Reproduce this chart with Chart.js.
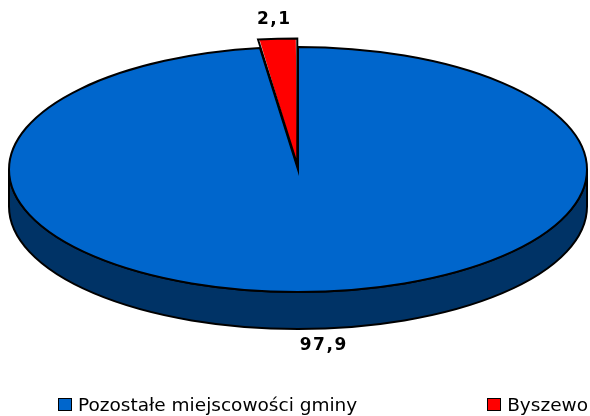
<!DOCTYPE html>
<html>
<head>
<meta charset="utf-8">
<script src="https://cdn.jsdelivr.net/npm/chart.js@4.4.1/dist/chart.umd.min.js"></script>
<style>
    html, body { margin: 0; padding: 0; background: #fff; }
    #wrap { position: relative; width: 590px; height: 416px; }
    #legenda {
        position: absolute; left: 58px; right: 2px; top: 396px;
        display: flex; justify-content: space-between;
        font: 18.5px "DejaVu Sans"; line-height: 18px; color: #000;
    }
    .item { display: flex; align-items: flex-start; white-space: nowrap; }
    .box { width: 12px; height: 11px; border: 1px solid #000; margin: 2px 6px 0 0; }
</style>
</head>
<body>
<div id="wrap">
    <canvas id="wykres" width="590" height="416"></canvas>
    <div id="legenda"></div>
</div>
<script>
// ------------------------------------------------------------------
// DANE
// ------------------------------------------------------------------
const ETYKIETY = ["Pozostałe miejscowości gminy", "Byszewo"];
const UDZIALY = [97.9, 2.1];
const ETYKIETY_WARTOSCI = ["97,9", "2,1"];
const KOLORY = ["#0066CC", "#FF0000"];
const KOLOR_BOKU = "#003366";

// geometria elipsy (pie "3D")
const E = { cx: 298, cy: 169.5, rx: 289, ry: 122.5, glebokosc: 37 };

// ------------------------------------------------------------------
function mapuj(chart) {
    const arc = chart.getDatasetMeta(0).data[0];
    return { x0: arc.x, y0: arc.y, sx: E.rx / arc.outerRadius, sy: E.ry / arc.outerRadius };
}

function transformuj(ctx, m) {
    ctx.translate(E.cx, E.cy);
    ctx.scale(m.sx, m.sy);
    ctx.translate(-m.x0, -m.y0);
}

const pie3d = {
    id: "pie3d",
    beforeDatasetsDraw(chart) {
        const ctx = chart.ctx;
        const arcs = chart.getDatasetMeta(0).data;
        ctx.save();
        arcs.forEach(arc => {
            for (let k = -1; k <= 1; k++) {
                const a = Math.max(arc.startAngle, 2 * Math.PI * k);
                const b = Math.min(arc.endAngle, 2 * Math.PI * k + Math.PI);
                if (b <= a) continue;
                const a0 = a - 2 * Math.PI * k, b0 = b - 2 * Math.PI * k;
                ctx.beginPath();
                ctx.ellipse(E.cx, E.cy, E.rx, E.ry, 0, a0, b0);
                ctx.ellipse(E.cx, E.cy + E.glebokosc, E.rx, E.ry, 0, b0, a0, true);
                ctx.closePath();
                ctx.fillStyle = KOLOR_BOKU;
                ctx.fill();
                ctx.lineWidth = 2;
                ctx.strokeStyle = "#000";
                ctx.stroke();
            }
        });
        ctx.restore();
    },
    beforeDatasetDraw(chart) {
        chart.ctx.save();
        transformuj(chart.ctx, mapuj(chart));
    },
    afterDatasetDraw(chart) {
        chart.ctx.restore();
    },
    afterDatasetsDraw(chart) {
        const ctx = chart.ctx;
        const m = mapuj(chart);
        const arcs = chart.getDatasetMeta(0).data;

        // obrys
        arcs.forEach(arc => {
            const o = (arc.options.offset || 0) / 4;
            const h = (arc.startAngle + arc.endAngle) / 2;
            const fix = 1 - Math.sin(Math.min(Math.PI, arc.circumference));
            const r = arc.outerRadius + o * fix;
            ctx.save();
            transformuj(ctx, m);
            ctx.translate(Math.cos(h) * o, Math.sin(h) * o);
            ctx.beginPath();
            ctx.moveTo(arc.x, arc.y);
            ctx.arc(arc.x, arc.y, r, arc.startAngle, arc.endAngle);
            ctx.closePath();
            ctx.restore();
            ctx.save();
            ctx.lineWidth = 2;
            ctx.lineJoin = "miter";
            ctx.strokeStyle = "#000";
            ctx.stroke();
            ctx.restore();
        });

        // etykiety wartosci
        ctx.save();
        ctx.font = "bold 17px 'DejaVu Sans'";
        ctx.letterSpacing = "1.5px";
        ctx.fillStyle = "#000";
        ctx.textAlign = "center";
        ctx.textBaseline = "middle";
        arcs.forEach((arc, i) => {
            const h = (arc.startAngle + arc.endAngle) / 2;
            const px = E.cx + E.rx * Math.cos(h) * 1.3;
            const py = E.cy + E.ry * Math.sin(h);
            const y = Math.sin(h) < 0 ? py - 28 : py + E.glebokosc + 17;
            ctx.fillText(ETYKIETY_WARTOSCI[i], px + 1, y);
        });
        ctx.restore();
    }
};

// ------------------------------------------------------------------
const wykres = new Chart(document.getElementById("wykres"), {
    type: "pie",
    data: {
        labels: ETYKIETY,
        datasets: [{
            data: UDZIALY,
            backgroundColor: KOLORY,
            borderWidth: 0,
            offset: [0, 15],
            clip: false
        }]
    },
    options: {
        responsive: false,
        animation: false,
        events: [],
        radius: 100,
        plugins: {
            legend: { display: false },
            tooltip: { enabled: false }
        }
    },
    plugins: [pie3d]
});

// legenda
const legenda = document.getElementById("legenda");
ETYKIETY.forEach((t, i) => {
    legenda.innerHTML += `<div class="item"><span class="box" style="background:${KOLORY[i]}"></span>${t}</div>`;
});
</script>
</body>
</html>
